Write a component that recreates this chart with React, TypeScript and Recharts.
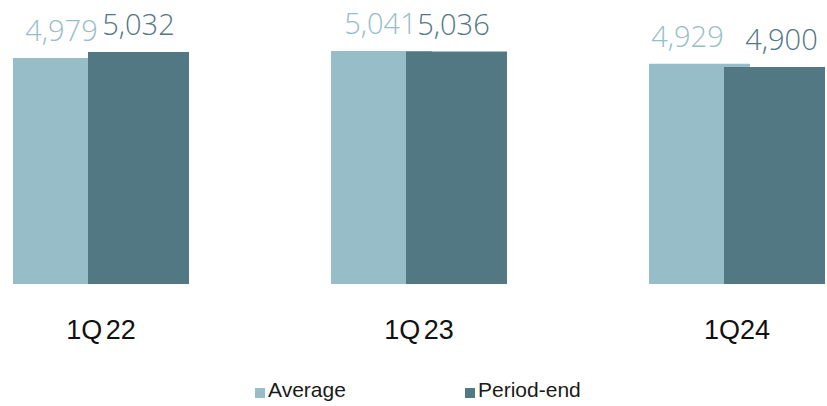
import React from "react";
import { BarChart, Bar, XAxis, YAxis, LabelList } from "recharts";

const categories = ["1Q 22", "1Q 23", "1Q24"];
const averageValues = [4979, 5041, 4929];
const periodEndValues = [5032, 5036, 4900];
const seriesNames = ["Average", "Period-end"];

const data = categories.map((c, i) => ({
  name: c,
  average: averageValues[i],
  periodEnd: periodEndValues[i],
}));

const LIGHT = "#97BEC8";
const DARK = "#527883";

const fmt = (v: number) => v.toLocaleString("en-US");

// small horizontal nudges used by the original to keep labels apart
const LIGHT_SHIFT = [-2, -1, -12];
const DARK_SHIFT = [0, -3, 7];

const makeLabel = (color: string, shifts: number[]) => (props: any) => {
  const { x, y, width, value, index } = props;
  return (
    <text
      x={x + width / 2 + (shifts[index] || 0)}
      y={y - 17}
      textAnchor="middle"
      fill={color}
      style={{ fontFamily: "'Open Sans', 'Liberation Sans', sans-serif", fontWeight: 300, fontSize: 29 }}
    >
      {fmt(value)}
    </text>
  );
};

const Tick = (props: any) => {
  const { x, y, payload } = props;
  return (
    <text
      x={x}
      y={y + 47}
      textAnchor="middle"
      fill="#111111"
      style={{ fontFamily: "'Liberation Sans', Arial, sans-serif", fontSize: 27, wordSpacing: -4 }}
    >
      {payload.value}
    </text>
  );
};

export default function App() {
  return (
    <div
      style={{
        position: "absolute",
        left: 0,
        top: 0,
        width: 827,
        height: 406,
        overflow: "hidden",
        background: "#ffffff",
      }}
    >
      <div style={{ position: "absolute", left: -58, top: 0 }}>
        <BarChart
          width={954}
          height={406}
          data={data}
          margin={{ top: 10, right: 0, bottom: 82, left: 0 }}
          barSize={101}
          barGap={-26}
        >
          <XAxis
            dataKey="name"
            axisLine={false}
            tickLine={false}
            height={40}
            tick={<Tick />}
            interval={0}
          />
          <YAxis hide domain={[3000, 5400]} />
          <Bar dataKey="average" fill={LIGHT} isAnimationActive={false}>
            <LabelList dataKey="average" content={makeLabel(LIGHT, LIGHT_SHIFT)} />
          </Bar>
          <Bar dataKey="periodEnd" fill={DARK} isAnimationActive={false}>
            <LabelList dataKey="periodEnd" content={makeLabel(DARK, DARK_SHIFT)} />
          </Bar>
        </BarChart>
      </div>
      <div
        style={{
          position: "absolute",
          left: 255,
          top: 376,
          display: "flex",
          alignItems: "center",
          fontFamily: "'Liberation Sans', Arial, sans-serif",
          fontSize: 21,
          color: "#1a1a1a",
          lineHeight: "28px",
        }}
      >
        <span style={{ display: "inline-block", width: 10, height: 10, background: LIGHT, marginRight: 3, marginTop: 5 }} />
        <span style={{ width: 197 }}>{seriesNames[0]}</span>
        <span style={{ display: "inline-block", width: 10, height: 10, background: DARK, marginRight: 3, marginTop: 5 }} />
        <span>{seriesNames[1]}</span>
      </div>
    </div>
  );
}
